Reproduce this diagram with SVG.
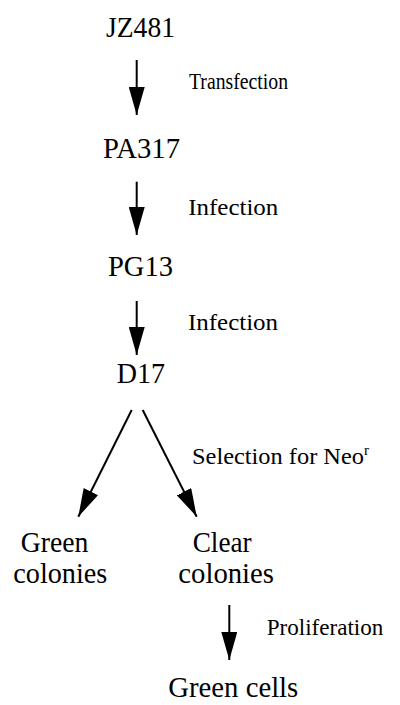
<svg xmlns="http://www.w3.org/2000/svg" width="400" height="705" viewBox="0 0 400 705">
<style>
text{font-family:"Liberation Serif","Times New Roman",serif;fill:#000}
.n{font-size:29px}
.l{font-size:24px}
.c{stroke:#000;stroke-width:2;fill:none}
</style>
<defs>
<marker id="ah" markerUnits="userSpaceOnUse" markerWidth="28" markerHeight="16" refX="28" refY="8" orient="auto" viewBox="0 0 28 16">
<path d="M0,0 L28,8 L0,16 Z" fill="#000"/>
</marker>
</defs>
<rect width="400" height="705" fill="#fff"/>
<g id="connectors">
<line class="c" x1="136.7" y1="60" x2="136.7" y2="115" marker-end="url(#ah)"/>
<line class="c" x1="136.7" y1="181.7" x2="136.7" y2="235" marker-end="url(#ah)"/>
<line class="c" x1="136.7" y1="301" x2="136.7" y2="355" marker-end="url(#ah)"/>
<line class="c" x1="131.7" y1="410" x2="78.3" y2="516.7" marker-end="url(#ah)"/>
<line class="c" x1="142.7" y1="410" x2="196.7" y2="516.7" marker-end="url(#ah)"/>
<line class="c" x1="229.3" y1="605" x2="229.3" y2="660" marker-end="url(#ah)"/>
<text class="l" x="189" y="89" textLength="99" lengthAdjust="spacingAndGlyphs">Transfection</text>
<text class="l" x="188.3" y="215" textLength="90" lengthAdjust="spacingAndGlyphs">Infection</text>
<text class="l" x="188" y="330" textLength="90" lengthAdjust="spacingAndGlyphs">Infection</text>
<text class="l" x="192" y="464.3"><tspan textLength="172" lengthAdjust="spacingAndGlyphs">Selection for Neo</tspan><tspan font-size="15" dy="-9">r</tspan></text>
<text class="l" x="266.7" y="635" textLength="116.7" lengthAdjust="spacingAndGlyphs">Proliferation</text>
</g>
<g id="node-jz481"><text class="n" x="106" y="37" textLength="69" lengthAdjust="spacingAndGlyphs">JZ481</text></g>
<g id="node-pa317"><text class="n" x="103" y="158" textLength="77" lengthAdjust="spacingAndGlyphs">PA317</text></g>
<g id="node-pg13"><text class="n" x="108" y="276" textLength="65" lengthAdjust="spacingAndGlyphs">PG13</text></g>
<g id="node-d17"><text class="n" x="116.7" y="383.3" textLength="48.3" lengthAdjust="spacingAndGlyphs">D17</text></g>
<g id="node-green-colonies">
<text class="n" x="20.7" y="551.7" textLength="67.6" lengthAdjust="spacingAndGlyphs">Green</text>
<text class="n" x="13.3" y="583.3" textLength="94" lengthAdjust="spacingAndGlyphs">colonies</text>
</g>
<g id="node-clear-colonies">
<text class="n" x="192.7" y="551.7" textLength="59" lengthAdjust="spacingAndGlyphs">Clear</text>
<text class="n" x="178.3" y="583.3" textLength="95.7" lengthAdjust="spacingAndGlyphs">colonies</text>
</g>
<g id="node-green-cells"><text class="n" x="168.3" y="696.7" textLength="130" lengthAdjust="spacingAndGlyphs">Green cells</text></g>
</svg>
